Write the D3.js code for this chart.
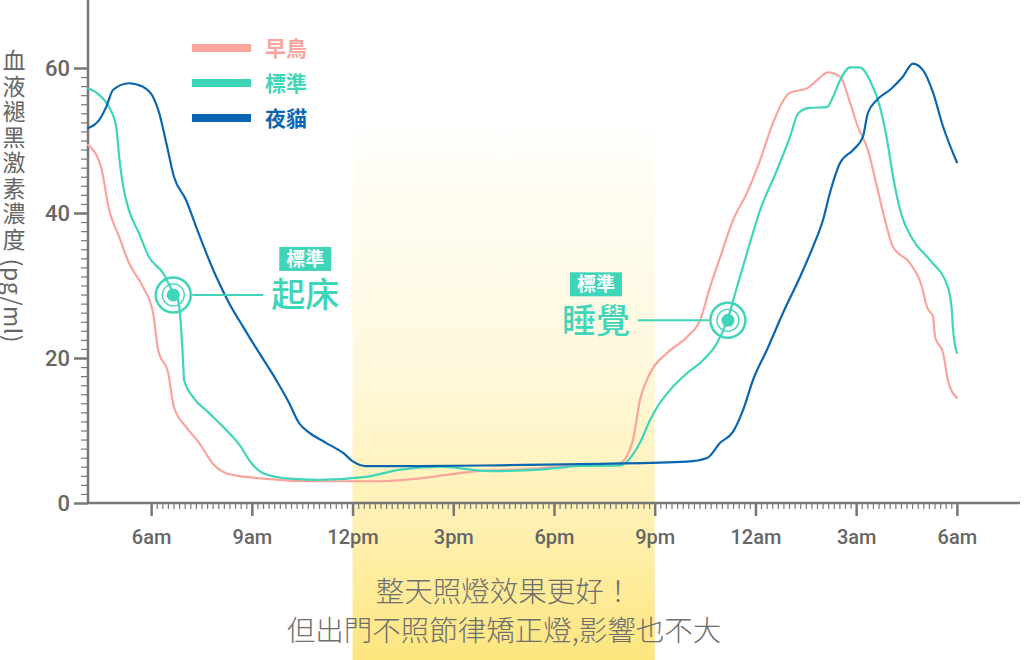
<!DOCTYPE html>
<html><head><meta charset="utf-8">
<script src="https://cdn.jsdelivr.net/npm/d3@7"></script>
<style>
html,body{margin:0;padding:0;background:#fff;}
#wrap{position:relative;width:1024px;height:660px;}
svg{display:block;}
#ytitle{position:absolute;left:2px;top:49px;writing-mode:vertical-rl;font-family:'Noto Sans CJK TC','Noto Sans CJK SC',sans-serif;font-size:23px;line-height:24px;color:#666;white-space:nowrap;}
#ytitle .main{letter-spacing:2.5px;}
#ytitle .unit{letter-spacing:0.5px;}
</style></head>
<body>
<div id="wrap">
<svg id="chart" width="1024" height="660"></svg>
</div>
<script>
// ---- data (hours since midnight of day 1; values in pg/ml) ----
const seriesNames = ["早鳥", "標準", "夜貓"];
const earlyBird = [[4.12,49.4],[4.51,46.3],[4.75,40.4],[5.05,36.7],[5.34,33.1],[5.76,29.8],[6.06,26.2],[6.21,21.1],[6.51,17.9],[6.68,13.2],[7.04,10.5],[7.43,8.3],[7.88,5.2],[8.23,4.1],[8.83,3.6],[11.03,3.0],[12.82,3.0],[14.01,3.4],[15.5,4.3],[17.29,4.7],[18.78,5.2],[19.67,5.2],[19.97,5.5],[20.35,8.7],[20.56,14.2],[20.86,17.9],[21.37,20.7],[21.96,22.9],[22.35,25.2],[22.65,29.8],[22.95,33.9],[23.33,39.0],[23.75,42.8],[24.14,47.3],[24.52,52.4],[25.03,56.6],[25.54,57.2],[25.83,58.3],[26.16,59.4],[26.52,58.8],[26.82,55.2],[27.05,51.9],[27.35,48.7],[27.62,43.6],[27.86,39.0],[28.10,35.3],[28.6,33.1],[28.96,29.8],[29.11,27.0],[29.29,25.7],[29.35,22.9],[29.59,20.7],[29.73,17.0],[30.0,14.5]];
const standard = [[4.12,57.2],[4.45,56.3],[4.75,54.6],[4.96,51.9],[5.05,47.7],[5.17,43.6],[5.34,40.4],[5.64,37.2],[5.94,33.9],[6.36,31.7],[6.66,29.0],[6.80,28.0],[6.89,24.3],[6.95,19.7],[6.98,17.0],[7.25,14.6],[7.73,12.4],[8.23,10.1],[8.68,7.7],[8.92,5.9],[9.34,4.1],[10.02,3.4],[11.0,3.2],[12.4,3.6],[13.42,4.6],[14.61,5.0],[16.1,4.4],[17.58,4.6],[18.78,5.1],[19.97,5.2],[20.56,8.3],[20.86,11.4],[21.07,13.2],[21.46,15.6],[21.96,17.9],[22.44,19.7],[22.86,22.1],[23.16,25.2],[23.45,29.8],[23.75,34.5],[24.14,40.4],[24.64,45.9],[25.03,50.5],[25.28,53.8],[25.62,54.5],[26.13,54.6],[26.31,56.0],[26.52,58.3],[26.82,60.1],[27.11,60.1],[27.41,58.3],[27.71,54.6],[27.92,50.1],[28.10,45.0],[28.31,40.4],[28.69,36.3],[29.2,33.5],[29.73,29.8],[29.85,26.6],[29.88,24.3],[30.0,20.7]];
const nightOwl = [[4.12,51.7],[4.45,52.8],[4.66,54.6],[4.87,57.0],[5.34,57.9],[5.76,57.4],[6.06,56.0],[6.24,53.8],[6.45,49.7],[6.68,45.0],[7.04,41.8],[7.34,38.1],[7.64,34.5],[7.94,31.2],[8.32,27.6],[8.74,24.3],[9.22,20.7],[9.72,17.0],[10.11,13.8],[10.41,11.0],[10.71,9.7],[11.21,8.3],[11.72,6.9],[12.02,5.7],[12.4,5.1],[14.0,5.1],[16.39,5.2],[19.37,5.4],[21.96,5.7],[22.56,6.2],[22.95,8.3],[23.33,9.8],[23.63,12.8],[23.93,17.0],[24.34,21.1],[24.82,26.2],[25.33,31.2],[25.71,35.3],[26.01,39.0],[26.22,42.8],[26.52,46.9],[26.91,48.7],[27.2,50.5],[27.35,53.8],[27.62,55.6],[28.01,57.0],[28.39,58.8],[28.69,60.6],[28.99,59.7],[29.29,56.6],[29.59,51.9],[30.0,47.0]];
const xTickHours = [6, 9, 12, 15, 18, 21, 24, 27, 30];
const xTickLabels = ["6am", "9am", "12pm", "3pm", "6pm", "9pm", "12am", "3am", "6am"];
const yTickValues = [0, 20, 40, 60];
const lightBand = [12, 21];          // 12pm - 9pm
const markerHours = [6.66, 23.18];   // 起床, 睡覺 (standard)
const markerValues = [28.7, 25.2];
const markerLabels = ["起床", "睡覺"];
const markerTag = "標準";
const yTitleMain = "血液褪黑激素濃度";
const yTitleUnit = " (pg/ml)";
const noteLines = ["整天照燈效果更好！", "但出門不照節律矯正燈,影響也不大"];

// ---- styles ----
const colors = ["#f9a59c", "#3fd5b8", "#0b66b1"];
const axisColor = "#777";
const textColor = "#666";
const cjk = "'Noto Sans CJK TC','Noto Sans CJK SC',sans-serif";
const num = "Roboto,'DejaVu Sans',sans-serif";

const svg = d3.select("#chart");
const x = d3.scaleLinear().domain([4.12, 31.88]).range([88, 1020]);
const y = d3.scaleLinear().domain([0, 60]).range([503, 68]);
const yTop = y.invert(0);

// gradient for light band
const defs = svg.append("defs");
const grad = defs.append("linearGradient").attr("id", "band").attr("x1", 0).attr("y1", 0).attr("x2", 0).attr("y2", 1);
grad.append("stop").attr("offset", "0%").attr("stop-color", "#fffefa");
grad.append("stop").attr("offset", "45%").attr("stop-color", "#fff8dc");
grad.append("stop").attr("offset", "75%").attr("stop-color", "#fff0b0");
grad.append("stop").attr("offset", "100%").attr("stop-color", "#fde67e");

svg.append("rect")
  .attr("x", x(lightBand[0])).attr("width", x(lightBand[1]) - x(lightBand[0]))
  .attr("y", 132).attr("height", 660 - 132)
  .attr("fill", "url(#band)");

// ---- axes ----
const gx = svg.append("g").attr("transform", `translate(0,${y(0)})`);
const minorX = d3.range(6, 30.0001, 1/6).filter(h => !xTickHours.some(t => Math.abs(t - h) < 1e-6));
gx.call(d3.axisBottom(x).tickValues(minorX).tickSize(6).tickFormat(""));
gx.call(g => g.select(".domain").remove());
gx.selectAll("line").attr("stroke", axisColor).attr("stroke-width", 1.2);
const gx2 = svg.append("g").attr("transform", `translate(0,${y(0)})`);
gx2.call(d3.axisBottom(x).tickValues(xTickHours).tickSize(13).tickPadding(14).tickFormat((d, i) => xTickLabels[i]));
gx2.select(".domain").remove();
gx2.selectAll("line").attr("stroke", axisColor).attr("stroke-width", 2.5);
gx2.selectAll("text").attr("fill", textColor).attr("font-family", num).attr("font-size", 20).attr("font-weight", 500);

const gy = svg.append("g").attr("transform", `translate(${x.range()[0]},0)`);
const minorY = d3.range(0, 60.0001, 1.25).filter(v => !yTickValues.includes(v));
gy.call(d3.axisLeft(y).tickValues(minorY).tickSize(7).tickFormat(""));
gy.select(".domain").remove();
gy.selectAll("line").attr("stroke", axisColor).attr("stroke-width", 1.2);
const gy2 = svg.append("g").attr("transform", `translate(${x.range()[0]},0)`);
gy2.call(d3.axisLeft(y).tickValues(yTickValues).tickSize(14).tickPadding(4));
gy2.select(".domain").remove();
gy2.selectAll("line").attr("stroke", axisColor).attr("stroke-width", 2.5);
gy2.selectAll("text").attr("fill", textColor).attr("font-family", num).attr("font-size", 22).attr("font-weight", 500);

// axis lines
svg.append("line").attr("x1", x.range()[0]).attr("x2", x.range()[1]).attr("y1", y(0)).attr("y2", y(0))
  .attr("stroke", axisColor).attr("stroke-width", 2.5);
svg.append("line").attr("x1", x.range()[0]).attr("x2", x.range()[0]).attr("y1", y(yTop)).attr("y2", y(0))
  .attr("stroke", axisColor).attr("stroke-width", 2.5);

// y title (vertical, HTML overlay)
const yt = d3.select("#wrap").append("div").attr("id", "ytitle");
yt.append("span").attr("class", "main").text(yTitleMain);
yt.append("span").attr("class", "unit").text(yTitleUnit);

// ---- lines ----
const line = d3.line().x(d => x(d[0])).y(d => y(d[1])).curve(d3.curveMonotoneX);
[earlyBird, standard, nightOwl].forEach((s, i) => {
  svg.append("path").datum(s).attr("d", line)
    .attr("fill", "none").attr("stroke", colors[i]).attr("stroke-width", 2.2)
    .attr("stroke-linejoin", "round").attr("stroke-linecap", "round");
});

// ---- legend ----
const lg = svg.append("g");
seriesNames.forEach((n, i) => {
  const yy = 48 + i * 35;
  lg.append("line").attr("x1", 192).attr("x2", 251).attr("y1", yy).attr("y2", yy)
    .attr("stroke", colors[i]).attr("stroke-width", 8);
  lg.append("text").attr("x", 265).attr("y", yy).attr("dy", "0.36em")
    .attr("font-family", cjk).attr("font-size", 21).attr("font-weight", 700)
    .attr("fill", colors[i]).text(n);
});

// ---- markers & annotations ----
const teal = colors[1];
markerHours.forEach((h, i) => {
  const cx = x(h), cy = y(markerValues[i]);
  const g = svg.append("g");
  g.append("circle").attr("cx", cx).attr("cy", cy).attr("r", 17.5).attr("fill", "none").attr("stroke", teal).attr("stroke-width", 2.5);
  g.append("circle").attr("cx", cx).attr("cy", cy).attr("r", 11).attr("fill", "none").attr("stroke", teal).attr("stroke-width", 1.3);
  g.append("circle").attr("cx", cx).attr("cy", cy).attr("r", 6.5).attr("fill", teal);
  const side = i === 0 ? 1 : -1;
  const lx1 = cx + side * 19, lx2 = cx + side * 90;
  g.append("line").attr("x1", lx1).attr("x2", lx2).attr("y1", cy).attr("y2", cy).attr("stroke", teal).attr("stroke-width", 2);
  const bx = i === 0 ? lx2 + 42 : lx2 - 42;
  g.append("rect").attr("x", bx - 26).attr("y", cy - 48).attr("width", 52).attr("height", 24).attr("fill", teal);
  g.append("text").attr("x", bx).attr("y", cy - 36).attr("dy", "0.36em").attr("text-anchor", "middle")
    .attr("font-family", cjk).attr("font-size", 19).attr("font-weight", 700).attr("fill", "#fff").text(markerTag);
  g.append("text").attr("x", bx).attr("y", cy).attr("dy", "0.36em").attr("text-anchor", "middle")
    .attr("font-family", cjk).attr("font-size", 34).attr("font-weight", 500).attr("fill", teal).text(markerLabels[i]);
});

// ---- bottom note ----
noteLines.forEach((t, i) => {
  svg.append("text").attr("x", 504).attr("y", 592 + i * 39).attr("dy", "0.36em").attr("text-anchor", "middle")
    .attr("font-family", cjk).attr("font-size", 28.5).attr("font-weight", 300).attr("fill", "#6f6f6f").text(t);
});
</script>
</body></html>
